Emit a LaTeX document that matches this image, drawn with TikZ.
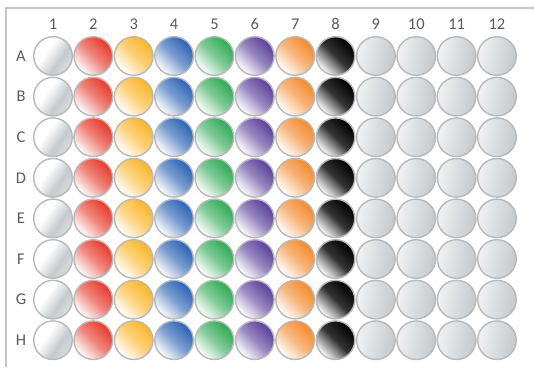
\documentclass[tikz,border=0pt]{standalone}
\usepackage{fontspec}
\setmainfont{Carlito}
\definecolor{wred}{HTML}{E8392A}
\definecolor{wyellow}{HTML}{FBB62A}
\definecolor{wblue}{HTML}{2A62B5}
\definecolor{wgreen}{HTML}{2EAA55}
\definecolor{wpurple}{HTML}{5A3E9A}
\definecolor{worange}{HTML}{F48A2C}
\definecolor{wellborder}{HTML}{B8B8B8}
\definecolor{labgray}{HTML}{5A5A5A}
\definecolor{framegray}{HTML}{C4C4C4}
\definecolor{glight}{HTML}{F0F2F3}
\definecolor{gdark}{HTML}{C4C8CB}
\definecolor{gstreak}{HTML}{C6CACD}
\definecolor{gsoft}{HTML}{DADDDF}
\pgfdeclarehorizontalshading{wellwhite}{100bp}{color(0bp)=(white); color(25bp)=(white); color(40bp)=(white); color(60bp)=(gstreak); color(75bp)=(gsoft); color(100bp)=(gsoft)}
\tikzset{
  well/.style={circle, draw=wellborder, line width=1.4bp, minimum size=38.6bp, inner sep=0pt},
  colwell/.style={well, top color=#1, bottom color=white, middle color=#1!62!white, shading angle=-45},
  c1/.style={well, shading=wellwhite, shading angle=-35},
  c2/.style={colwell=wred},
  c3/.style={colwell=wyellow},
  c4/.style={colwell=wblue},
  c5/.style={colwell=wgreen},
  c6/.style={colwell=wpurple},
  c7/.style={colwell=worange},
  c8/.style={well, top color=black, bottom color=white, middle color=black!80!white, shading angle=-45},
  graywell/.style={well, left color=glight, right color=gdark, shading angle=80},
  c9/.style={graywell}, c10/.style={graywell}, c11/.style={graywell}, c12/.style={graywell},
  lab/.style={text=labgray, font=\fontsize{16.5}{19}\selectfont, inner sep=0pt},
  frameline/.style={draw=framegray, line width=1.3bp}
}
\begin{document}
\begin{tikzpicture}[x=1bp, y=-1bp]
  \useasboundingbox (0,0) rectangle (534,367);
  \coordinate (ftr) at (534,8);
  \coordinate (ftl) at (6,8);
  \coordinate (fbl) at (6,367);
  \draw[frameline] (ftr) -- (ftl) -- (fbl);
  \foreach \j in {1,...,12} {
    \node[lab] (col\j) at ({53+40.36*(\j-1)}, 24) {\j};
  }
  \foreach \r [count=\i] in {A,B,C,D,E,F,G,H} {
    \node[lab] (row\r) at (21, {56+40.6*(\i-1)}) {\r};
    \foreach \j in {1,...,12} {
      \node[c\j] (w\r\j) at ({53+40.36*(\j-1)}, {56+40.6*(\i-1)}) {};
    }
  }
\end{tikzpicture}
\end{document}
